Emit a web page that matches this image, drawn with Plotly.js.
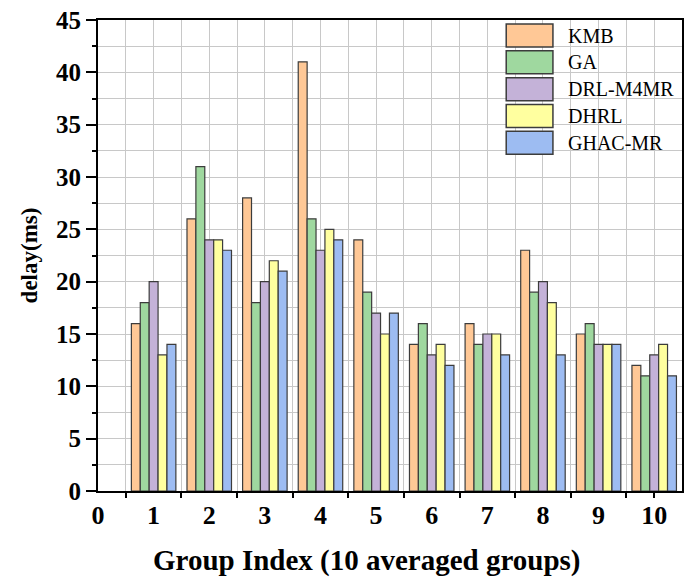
<!DOCTYPE html>
<html>
<head>
<meta charset="utf-8">
<script src="https://cdn.plot.ly/plotly-3.0.1.min.js"></script>
<style>
  html, body { margin: 0; padding: 0; background: #fff; }
  #chart { width: 691px; height: 583px; }
</style>
</head>
<body>
<div id="chart"></div>
<script>
// group index 1..10
const groups = [1, 2, 3, 4, 5, 6, 7, 8, 9, 10];

const seriesNames = ['KMB', 'GA', 'DRL-M4MR', 'DHRL', 'GHAC-MR'];
const seriesColors = ['#ffc896', '#9fd89f', '#c4b2d8', '#ffff9f', '#9dbcf2'];

const kmb     = [16, 26, 28, 41, 24, 14, 16, 23, 15, 12];
const ga      = [18, 31, 18, 26, 19, 16, 14, 19, 16, 11];
const drlM4mr = [20, 24, 20, 23, 17, 13, 15, 20, 14, 13];
const dhrl    = [13, 24, 22, 25, 15, 14, 15, 18, 14, 14];
const ghacMr  = [14, 23, 21, 24, 17, 12, 13, 13, 14, 11];

const seriesValues = [kmb, ga, drlM4mr, dhrl, ghacMr];

const xTickVals = [0, 1, 2, 3, 4, 5, 6, 7, 8, 9, 10];
const xHalfTicks = [0.5, 1.5, 2.5, 3.5, 4.5, 5.5, 6.5, 7.5, 8.5, 9.5, 10];

const serif = 'Liberation Serif, Times New Roman, serif';

const traces = seriesNames.map((name, i) => ({
  type: 'bar',
  name: name,
  x: groups,
  y: seriesValues[i],
  marker: { color: seriesColors[i], line: { color: '#3c3c3c', width: 1.2 } },
  showlegend: false,
  hovertemplate: name + ': %{y} ms<extra></extra>',
}));

// custom legend (big boxes like the original figure)
const legendShapes = [];
const notes = [];
const rowTop = 0.967;
const rowStep = 0.0569;
seriesNames.forEach((name, i) => {
  const yc = rowTop - i * rowStep;
  legendShapes.push({
    type: 'rect', xref: 'paper', yref: 'paper',
    x0: 0.699, x1: 0.779, y0: yc - 0.0244, y1: yc + 0.0244,
    fillcolor: seriesColors[i], line: { color: '#3c3c3c', width: 1.5 },
  });
  notes.push({
    xref: 'paper', yref: 'paper', x: 0.801, y: yc,
    xanchor: 'left', yanchor: 'middle', showarrow: false,
    text: name, font: { family: serif, size: 20, color: '#000' },
  });
});

// x-axis title sits a little left of the plot centre in the original
notes.push({
  xref: 'paper', yref: 'paper', x: 0.46, y: -0.147,
  xanchor: 'center', yanchor: 'middle', showarrow: false,
  text: '<b>Group Index (10 averaged groups)</b>',
  font: { family: serif, size: 29, color: '#000' },
});

const layout = {
  width: 691,
  height: 583,
  paper_bgcolor: '#ffffff',
  plot_bgcolor: '#ffffff',
  margin: { l: 98, r: 9, t: 20, b: 92 },
  barmode: 'group',
  bargap: 0.2,
  bargroupgap: 0,
  font: { family: serif, color: '#000' },
  xaxis: {
    range: [0, 10.5],
    tickmode: 'array',
    tickvals: xTickVals,
    ticks: '',
    tickfont: { family: serif, size: 26, weight: 'bold' },
    showgrid: true,
    gridcolor: '#c8c8c8',
    gridwidth: 1,
    zeroline: false,
    showline: true,
    linecolor: '#000',
    linewidth: 2,
    mirror: true,
    minor: {
      tickmode: 'array',
      tickvals: xHalfTicks,
      ticks: 'outside',
      ticklen: 5,
      tickwidth: 1.5,
      tickcolor: '#000',
      showgrid: true,
      gridcolor: '#c8c8c8',
      gridwidth: 1,
    },
  },
  yaxis: {
    range: [0, 45],
    dtick: 5,
    tick0: 0,
    ticks: 'outside',
    ticklen: 10,
    tickwidth: 1.5,
    tickcolor: '#000',
    tickfont: { family: serif, size: 25, weight: 'bold' },
    showgrid: true,
    gridcolor: '#c8c8c8',
    gridwidth: 1,
    zeroline: false,
    showline: true,
    linecolor: '#000',
    linewidth: 2,
    mirror: true,
    minor: {
      dtick: 2.5,
      ticks: 'outside',
      ticklen: 4,
      tickwidth: 1.5,
      tickcolor: '#000',
      showgrid: true,
      gridcolor: '#c8c8c8',
      gridwidth: 1,
    },
    title: {
      text: '<b>delay(ms)</b>',
      font: { family: serif, size: 23 },
      standoff: 12,
    },
  },
  shapes: legendShapes,
  annotations: notes,
};

Plotly.newPlot('chart', traces, layout, { displayModeBar: false, responsive: false });
</script>
</body>
</html>
